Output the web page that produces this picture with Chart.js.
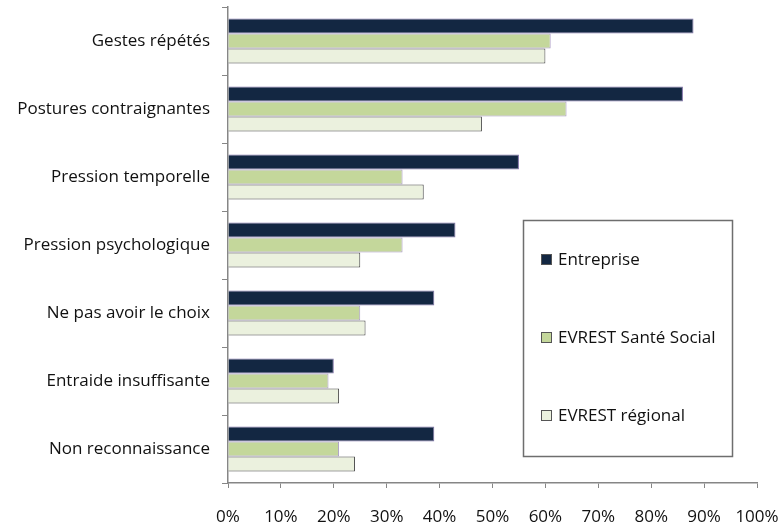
<!DOCTYPE html>
<html>
<head>
    <meta charset="utf-8">
    <title>Contraintes</title>
    <style>
        html, body { margin: 0; padding: 0; background: #fff; }
        #wrap { width: 784px; height: 531px; }
    </style>
</head>
<body>
    <div id="wrap">
        <canvas id="myChart" width="784" height="531"></canvas>
    </div>

    <script src="https://cdn.jsdelivr.net/npm/chart.js"></script>

    <script>
        const categories = ['Gestes répétés', 'Postures contraignantes', 'Pression temporelle',
            'Pression psychologique', 'Ne pas avoir le choix', 'Entraide insuffisante', 'Non reconnaissance'];
        const entreprise = [88, 86, 55, 43, 39, 20, 39];
        const santeSocial = [61, 64, 33, 33, 25, 19, 21];
        const regional = [60, 48, 37, 25, 26, 21, 24];
        const xTicks = [0, 10, 20, 30, 40, 50, 60, 70, 80, 90, 100];

        const FONT = '"Open Sans", sans-serif';
        const FSIZE = 17;

        // legend box drawn inside the chart, like the original
        const boxLegend = {
            id: 'boxLegend',
            afterDraw(chart) {
                const ctx = chart.ctx;
                const x0 = 523, y0 = 220, w = 209, h = 236;
                ctx.save();
                ctx.fillStyle = '#fff';
                ctx.fillRect(x0, y0, w, h);
                ctx.strokeStyle = '#6e6e6e';
                ctx.lineWidth = 1.5;
                ctx.strokeRect(x0 + 0.5, y0 + 0.5, w, h);
                ctx.font = FSIZE + 'px ' + FONT;
                ctx.textBaseline = 'middle';
                chart.data.datasets.forEach((ds, i) => {
                    const cy = y0 + 40 + i * 78;
                    ctx.fillStyle = ds.backgroundColor;
                    ctx.fillRect(541, cy - 6, 11, 11);
                    ctx.strokeStyle = '#555';
                    ctx.lineWidth = 1;
                    ctx.strokeRect(541.5, cy - 5.5, 10, 10);
                    ctx.fillStyle = '#111';
                    ctx.fillText(ds.label, 558, cy);
                });
                ctx.restore();
            }
        };

        const data = {
            labels: categories,
            datasets: [
                {
                    label: 'Entreprise',
                    data: entreprise,
                    backgroundColor: '#132742',
                    borderColor: '#7e6fa6',
                    borderWidth: 1
                },
                {
                    label: 'EVREST Santé Social',
                    data: santeSocial,
                    backgroundColor: '#c4d79b',
                    borderColor: '#a898c4',
                    borderWidth: 1
                },
                {
                    label: 'EVREST régional',
                    data: regional,
                    backgroundColor: '#ebf1de',
                    borderColor: '#444',
                    borderWidth: 1
                }
            ]
        };

        const config = {
            type: 'bar',
            data: data,
            plugins: [boxLegend],
            options: {
                indexAxis: 'y',
                responsive: false,
                animation: false,
                events: [],
                datasets: {
                    bar: { categoryPercentage: 0.66, barPercentage: 1.0 }
                },
                layout: {
                    padding: { top: 7, right: 27, left: 0, bottom: 0 }
                },
                plugins: {
                    legend: { display: false },
                    tooltip: { enabled: false }
                },
                scales: {
                    x: {
                        min: 0,
                        max: 100,
                        afterBuildTicks(scale) {
                            scale.ticks = xTicks.map(v => ({ value: v }));
                        },
                        afterFit(scale) {
                            scale.height = 48;
                            scale.paddingLeft = 0;
                            scale.paddingRight = 0;
                        },
                        ticks: {
                            callback: v => v + '%',
                            color: '#111',
                            padding: 19,
                            maxRotation: 0,
                            font: { family: FONT, size: FSIZE }
                        },
                        grid: {
                            drawOnChartArea: false,
                            tickLength: 5,
                            color: '#868686'
                        },
                        border: { color: '#868686', width: 1.5 }
                    },
                    y: {
                        afterFit(scale) {
                            scale.width = 228;
                            scale.paddingTop = 0;
                            scale.paddingBottom = 0;
                        },
                        ticks: {
                            color: '#111',
                            padding: 12,
                            font: { family: FONT, size: FSIZE }
                        },
                        grid: {
                            drawOnChartArea: false,
                            tickLength: 6,
                            color: '#868686',
                            offset: true
                        },
                        border: { color: '#868686', width: 1.5 }
                    }
                }
            }
        };

        const ctx = document.getElementById('myChart');
        new Chart(ctx, config);
    </script>
</body>
</html>
